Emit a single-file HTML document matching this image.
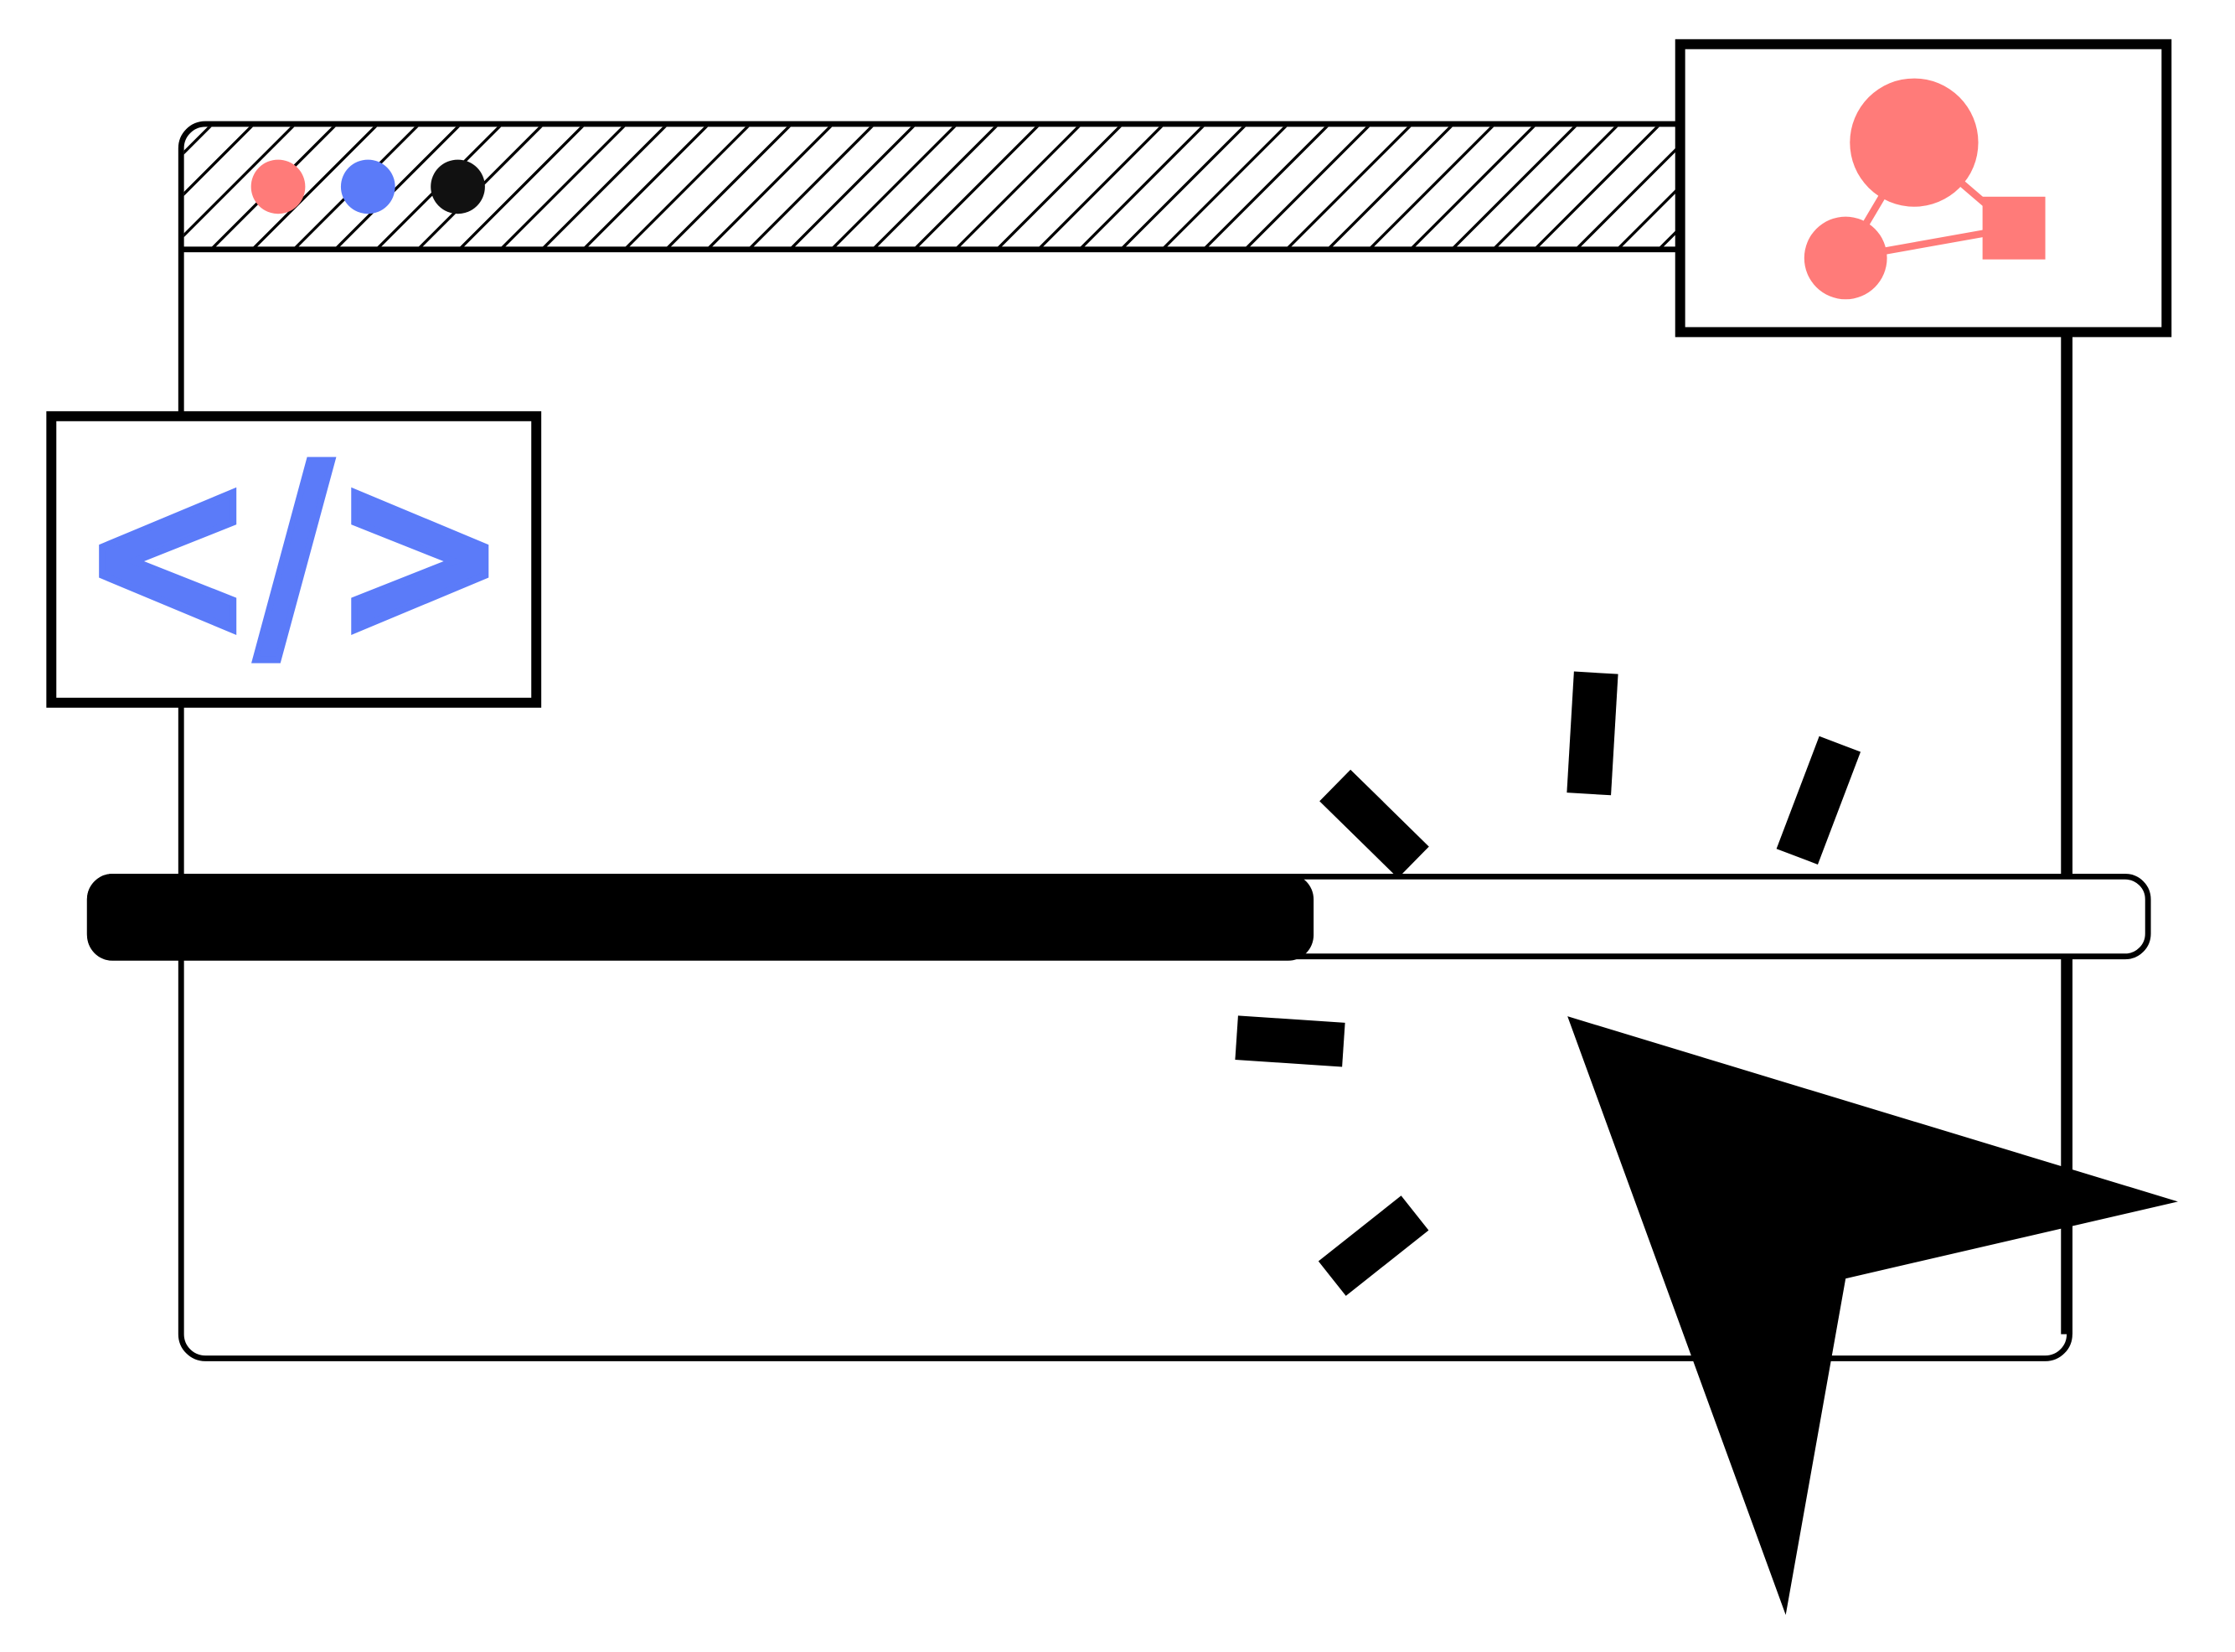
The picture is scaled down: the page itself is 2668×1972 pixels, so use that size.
<!DOCTYPE html>
<html><head><meta charset="utf-8"><style>
html,body{margin:0;padding:0;background:#fff;width:2668px;height:1972px;overflow:hidden}
svg{display:block}
</style></head><body>
<svg width="2668" height="1972" viewBox="0 0 1567 1159" preserveAspectRatio="none" xmlns="http://www.w3.org/2000/svg">
<defs>
<clipPath id="hc"><rect x="129" y="89" width="1050" height="86"/></clipPath>
</defs>
<rect x="127" y="87" width="1324" height="866" rx="17" fill="#fff" stroke="#000" stroke-width="4"/>
<line x1="1449" y1="200" x2="1449" y2="936" stroke="#000" stroke-width="8"/>
<g clip-path="url(#hc)" stroke="#000" stroke-width="2">
<path d="M60,176 l90,-90 M89,176 l90,-90 M118,176 l90,-90 M147,176 l90,-90 M176,176 l90,-90 M205,176 l90,-90 M234,176 l90,-90 M263,176 l90,-90 M292,176 l90,-90 M321,176 l90,-90 M350,176 l90,-90 M379,176 l90,-90 M408,176 l90,-90 M437,176 l90,-90 M466,176 l90,-90 M495,176 l90,-90 M524,176 l90,-90 M553,176 l90,-90 M582,176 l90,-90 M611,176 l90,-90 M640,176 l90,-90 M669,176 l90,-90 M698,176 l90,-90 M727,176 l90,-90 M756,176 l90,-90 M785,176 l90,-90 M814,176 l90,-90 M843,176 l90,-90 M872,176 l90,-90 M901,176 l90,-90 M930,176 l90,-90 M959,176 l90,-90 M988,176 l90,-90 M1017,176 l90,-90 M1046,176 l90,-90 M1075,176 l90,-90 M1104,176 l90,-90 M1133,176 l90,-90 M1162,176 l90,-90"/>
</g>
<line x1="127" y1="175" x2="1180" y2="175" stroke="#000" stroke-width="4"/>
<circle cx="195" cy="131" r="19" fill="#FF7B79"/>
<circle cx="258" cy="131" r="19" fill="#5B7BF9"/>
<circle cx="321" cy="131" r="19" fill="#111"/>
<rect x="1178" y="31" width="341" height="202" fill="#fff" stroke="#000" stroke-width="7"/>
<g stroke="#FF7B79" stroke-width="5">
<line x1="1342" y1="100" x2="1294" y2="181"/>
<line x1="1342" y1="100" x2="1412" y2="160"/>
<line x1="1294" y1="181" x2="1412" y2="160"/>
</g>
<circle cx="1342" cy="100" r="45" fill="#FF7B79"/>
<circle cx="1294" cy="181" r="29" fill="#FF7B79"/>
<rect x="1390" y="138" width="44" height="44" fill="#FF7B79"/>
<rect x="36" y="292" width="340" height="201" fill="#fff" stroke="#000" stroke-width="7"/>
<text x="56" y="447" font-family="DejaVu Sans, sans-serif" font-weight="bold" font-size="170" fill="#5B7BF9" stroke="#5B7BF9" stroke-width="5" stroke-linejoin="miter" textLength="300" lengthAdjust="spacingAndGlyphs">&lt;/&gt;</text>
<rect x="63" y="615" width="1443" height="56" rx="16" fill="#fff" stroke="#000" stroke-width="4"/>
<rect x="61" y="613" width="860" height="61" rx="18" fill="#000"/>
<g stroke="#000" stroke-width="31" stroke-linecap="butt">
<line x1="936" y1="551" x2="991" y2="605"/>
<line x1="1119" y1="472" x2="1114" y2="557"/>
<line x1="1290" y1="522" x2="1260" y2="601"/>
<line x1="867" y1="728" x2="942" y2="733"/>
<line x1="934" y1="897" x2="992" y2="851"/>
</g>
<polygon points="1099,713 1527,843 1294,897 1252,1133" fill="#000"/>
</svg>
</body></html>
